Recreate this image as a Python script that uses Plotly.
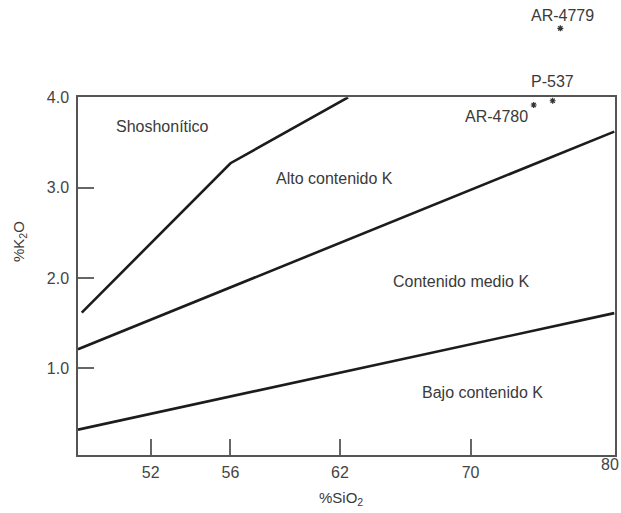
import math
import plotly.graph_objects as go

# ---- data ----
x_ticks = [52, 56, 62, 70, 80]
x_tick_labels = ["52", "56", "62", "70", ""]   # "80" is drawn as a corner label
x_corner_label = "80"
y_ticks = [1, 2, 3, 4]
y_tick_labels = ["1.0", "2.0", "3.0", "4.0"]

# boundary lines (SiO2, K2O)
low_sio2 = [48.6, 80.0]
low_k2o = [0.32, 1.61]
mid_sio2 = [48.6, 80.0]
mid_k2o = [1.21, 3.62]
high_sio2 = [48.77, 56.0, 62.47]
high_k2o = [1.615, 3.27, 4.0]

# samples
sample_names = ["AR-4779", "P-537", "AR-4780"]
sample_sio2 = [76.09, 75.55, 74.23]
sample_k2o = [4.764, 3.962, 3.915]

# region labels
region_names = ["Shoshonítico", "Alto contenido K", "Contenido medio K", "Bajo contenido K"]

# ---- layout geometry (pixels) ----
W, H = 621, 513
L, R, B = 78, 6, 58
T_BOX = 97.3          # top of the framed box
T_FIG = 8             # top of the plotting region (room for the outside sample)
PW = W - L - R
BOTTOM = H - B        # 455
PH_ALL = BOTTOM - T_FIG
PX_PER_UNIT = 90.3
Y0 = 0.039
Y_TOP_BOX = 4.0
box_frac = (BOTTOM - T_BOX) / PH_ALL
y2_top = Y0 + PH_ALL / PX_PER_UNIT


def px(xp):
    return (xp - L) / PW


def py(yp):
    return (BOTTOM - yp) / PH_ALL


TXT = "#3a3a3a"
FONT = "Liberation Sans, Arial, sans-serif"

fig = go.Figure()
line_style = dict(color="#1c1c1c", width=2.6)
for xs, ys in [(low_sio2, low_k2o), (mid_sio2, mid_k2o), (high_sio2, high_k2o)]:
    fig.add_trace(go.Scatter(x=xs, y=ys, mode="lines", line=line_style,
                             hoverinfo="skip", showlegend=False, cliponaxis=False))

fig.add_trace(go.Scatter(x=sample_sio2, y=sample_k2o, mode="markers", yaxis="y2",
                         marker=dict(symbol="asterisk-open", size=5, color="#333",
                                     line=dict(color="#333", width=1.2)),
                         text=sample_names, showlegend=False, cliponaxis=False))

annotations = []
region_pos = [(162, 126), (334, 178), (461, 282), (482, 392)]
for name, (xp, yp) in zip(region_names, region_pos):
    annotations.append(dict(text=name, xref="paper", yref="paper", x=px(xp), y=py(yp),
                            xanchor="center", yanchor="middle", showarrow=False,
                            font=dict(size=16, color=TXT, family=FONT)))
sample_label_pos = [(562, 15), (552, 82), (496, 116)]
for name, (xp, yp) in zip(sample_names, sample_label_pos):
    annotations.append(dict(text=name, xref="paper", yref="paper", x=px(xp), y=py(yp),
                            xanchor="center", yanchor="middle", showarrow=False,
                            font=dict(size=16, color=TXT, family=FONT)))
annotations.append(dict(text=x_corner_label, xref="paper", yref="paper",
                        x=px(610), y=py(465), xanchor="center", yanchor="middle",
                        showarrow=False, font=dict(size=16, color="#444", family=FONT)))
annotations.append(dict(text="%SiO<sub>2</sub>", xref="paper", yref="paper",
                        x=px(341), y=py(499), xanchor="center", yanchor="middle",
                        showarrow=False, font=dict(size=15, color=TXT, family=FONT)))
annotations.append(dict(text="%K<sub>2</sub>O", xref="paper", yref="paper",
                        x=px(19), y=py(242), xanchor="center", yanchor="middle",
                        textangle=-90, showarrow=False,
                        font=dict(size=15, color=TXT, family=FONT)))

axis_common = dict(showgrid=False, zeroline=False, showline=True, mirror=True,
                   linecolor="#555", linewidth=1.5, ticks="inside", ticklen=16,
                   tickwidth=1.5, tickcolor="#666", automargin=False,
                   tickfont=dict(size=16, color="#444", family=FONT))

fig.update_layout(
    width=W, height=H,
    margin=dict(l=L, r=R, t=T_FIG, b=B, autoexpand=False),
    paper_bgcolor="white", plot_bgcolor="rgba(0,0,0,0)",
    xaxis=dict(type="log", range=[math.log10(48.6), math.log10(80) + 0.0003],
               tickmode="array", tickvals=x_ticks, ticktext=x_tick_labels,
               ticklabelstandoff=2, anchor="y", **axis_common),
    yaxis=dict(range=[Y0, Y_TOP_BOX], domain=[0, box_frac], tickmode="array",
               tickvals=y_ticks, ticktext=y_tick_labels, ticklabelstandoff=4,
               anchor="x", **axis_common),
    yaxis2=dict(range=[Y0, y2_top], domain=[0, 1], anchor="x", visible=False,
                showgrid=False, zeroline=False),
    annotations=annotations,
)

fig.write_html("out.html", config={"displayModeBar": False},
               post_script="document.body.style.margin='0';document.body.style.overflow='hidden';")
